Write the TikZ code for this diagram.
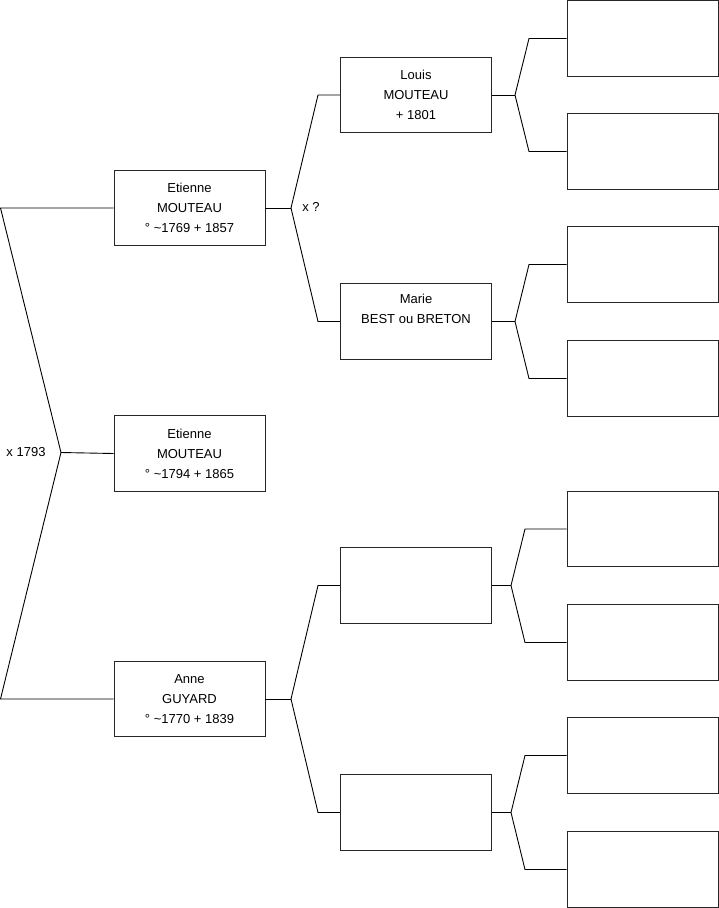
\documentclass[tikz,border=0pt]{standalone}
\usepackage{fontspec}
\setmainfont{Liberation Sans}
\begin{document}
\begin{tikzpicture}[x=1pt,y=-1pt,
  pbox/.style={draw=black!85, line width=0.9pt, minimum width=151pt, minimum height=75.5pt, inner sep=0pt, align=center, font=\fontsize{13}{20}\selectfont},
  link/.style={draw=black, line width=0.9pt},
  lbl/.style={font=\fontsize{13}{16}\selectfont, inner sep=0pt}]
\useasboundingbox (0,0) rectangle (719,908);
% generation 1
\node[pbox] (fa) at (189.5,208) {Etienne\\MOUTEAU\\° \textasciitilde1769 + 1857};
\node[pbox] (ch) at (189.5,453.5) {Etienne\\MOUTEAU\\° \textasciitilde1794 + 1865};
\node[pbox] (mo) at (189.5,699) {Anne\\GUYARD\\° \textasciitilde1770 + 1839};
% generation 2
\node[pbox] (lo) at (416,95) {Louis\\MOUTEAU\\+ 1801};
\node[pbox] (ma) at (416,321.5) {Marie\\BEST ou BRETON\\\strut};
\node[pbox] (e1) at (416,585.5) {};
\node[pbox] (e2) at (416,812.5) {};
% generation 3
\node[pbox] (g1) at (642.5,38.5) {};
\node[pbox] (g2) at (642.5,151.5) {};
\node[pbox] (g3) at (642.5,264.5) {};
\node[pbox] (g4) at (642.5,378.5) {};
\node[pbox] (g5) at (642.5,529) {};
\node[pbox] (g6) at (642.5,642.5) {};
\node[pbox] (g7) at (642.5,755.5) {};
\node[pbox] (g8) at (642.5,869.5) {};
% marriage fork of parents
\coordinate (p0) at (0.5,208);
\coordinate (p1) at (61,452.5);
\coordinate (p2) at (0.5,699);
\draw[link] (fa.west) -- (p0) -- (p1) -- (p2) -- (mo.west);
\draw[link] (p1) -- (ch.west);
\node[lbl] (l1) at (26,452) {x 1793};
% father's parents
\coordinate (q0) at (291,208);
\coordinate (q1) at (318,95);
\coordinate (q2) at (318,321.5);
\draw[link] (fa.east) -- (q0);
\draw[link] (q0) -- (q1) -- (lo.west);
\draw[link] (q0) -- (q2) -- (ma.west);
\node[lbl] (l2) at (311,207) {x ?};
% mother's parents
\coordinate (r0) at (291,699);
\coordinate (r1) at (318,585.5);
\coordinate (r2) at (318,812.5);
\draw[link] (mo.east) -- (r0);
\draw[link] (r0) -- (r1) -- (e1.west);
\draw[link] (r0) -- (r2) -- (e2.west);
% Louis
\coordinate (s0) at (515,95);
\coordinate (s1) at (529,38.5);
\coordinate (s2) at (529,151.5);
\draw[link] (lo.east) -- (s0);
\draw[link] (s0) -- (s1) -- (g1.west);
\draw[link] (s0) -- (s2) -- (g2.west);
% Marie
\coordinate (t0) at (515,321.5);
\coordinate (t1) at (529,264.5);
\coordinate (t2) at (529,378.5);
\draw[link] (ma.east) -- (t0);
\draw[link] (t0) -- (t1) -- (g3.west);
\draw[link] (t0) -- (t2) -- (g4.west);
% e1
\coordinate (u0) at (511,585.5);
\coordinate (u1) at (525,529);
\coordinate (u2) at (525,642.5);
\draw[link] (e1.east) -- (u0);
\draw[link] (u0) -- (u1) -- (g5.west);
\draw[link] (u0) -- (u2) -- (g6.west);
% e2
\coordinate (v0) at (511,812.5);
\coordinate (v1) at (525,755.5);
\coordinate (v2) at (525,869.5);
\draw[link] (e2.east) -- (v0);
\draw[link] (v0) -- (v1) -- (g7.west);
\draw[link] (v0) -- (v2) -- (g8.west);
\end{tikzpicture}
\end{document}
